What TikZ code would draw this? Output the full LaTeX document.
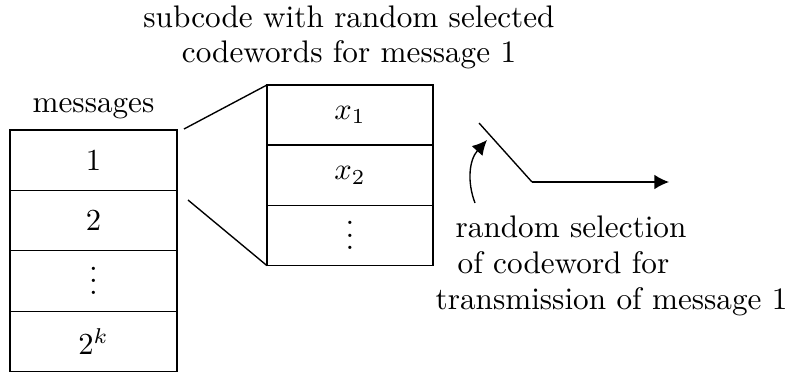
\documentclass[tikz,border=0pt]{standalone}
\usetikzlibrary{arrows.meta}
\newcommand\cvdots{\vbox{\baselineskip4pt\lineskiplimit0pt\hbox{.}\hbox{.}\hbox{.}}}
\begin{document}
\begin{tikzpicture}[x=0.327pt,y=-0.327pt, line width=0.45pt,
  every node/.style={font=\fontsize{10.2}{12}\selectfont},
  lcell/.style={draw, minimum width=54.6pt, minimum height=19.75pt, inner sep=0pt, outer sep=0pt},
  mcell/.style={draw, minimum width=54.3pt, minimum height=19.7pt, inner sep=0pt, outer sep=0pt},
  lbl/.style={anchor=base, inner sep=0pt},
  lblw/.style={anchor=base west, inner sep=0pt},
  tipa/.style={-{Latex[length=4.8pt,width=4.8pt]}}]
\useasboundingbox (0,0) rectangle (792,374);
% messages column
\node[lcell] (l1) at (93.5,160.2) {$1$};
\node[lcell] (l2) at (93.5,220.6) {$2$};
\node[lcell] (l3) at (93.5,281.0) {\cvdots};
\node[lcell] (l4) at (93.5,341.4) {$2^k$};
\node[lbl] (tmsg) at (93.5,112) {messages};
% subcode column
\node[mcell] (c1) at (350,115.1) {$x_1$};
\node[mcell] (c2) at (350,175.3) {$x_2$};
\node[mcell] (c3) at (350,235.5) {\cvdots};
\node[lbl] (tsub1) at (349,27) {subcode with random selected};
\node[lbl] (tsub2) at (349,62) {codewords for message 1};
% fan lines
\coordinate (f1) at (184,129);
\coordinate (f2) at (188,200);
\draw (f1) -- (c1.north west);
\draw (f2) -- (c3.south west);
% switch
\coordinate (s1) at (479,123);
\coordinate (s2) at (532,182);
\coordinate (s3) at (669,182);
\draw (s1) -- (s2);
\draw[tipa] (s2) -- (s3);
% selection arrow
\coordinate (a1) at (475,203);
\coordinate (a2) at (487,140);
\draw[tipa] (a1) .. controls (467,182) and (469,160) .. (a2);
\node[lblw] (tr1) at (455,237) {random selection};
\node[lblw] (tr2) at (457,273) {of codeword for};
\node[lblw] (tr3) at (435,309) {transmission of message 1};
\end{tikzpicture}
\end{document}
